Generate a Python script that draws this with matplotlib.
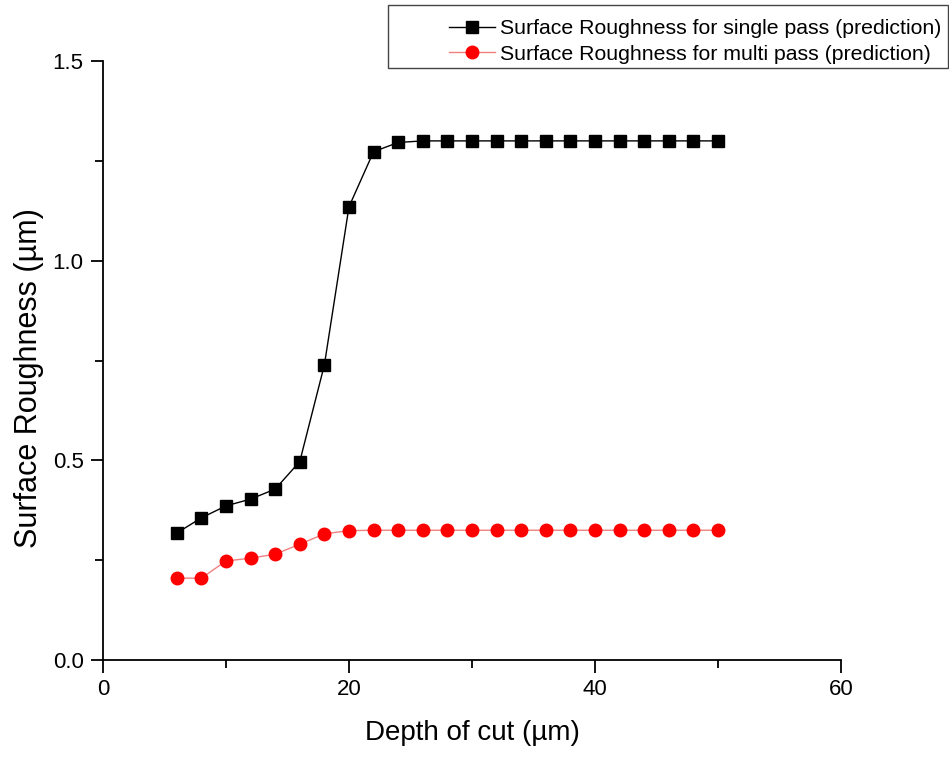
import numpy as np
import matplotlib.pyplot as plt
from matplotlib.ticker import MultipleLocator
from matplotlib.patches import Rectangle

plt.rcParams['font.family'] = ['Liberation Sans', 'DejaVu Sans']

depth = [6, 8, 10, 12, 14, 16, 18, 20, 22, 24, 26, 28, 30, 32, 34, 36, 38, 40, 42, 44, 46, 48, 50]
single_pass = [0.318, 0.356, 0.386, 0.403, 0.428, 0.497, 0.739, 1.135, 1.273, 1.296,
               1.30, 1.30, 1.30, 1.30, 1.30, 1.30, 1.30, 1.30, 1.30, 1.30, 1.30, 1.30, 1.30]
multi_pass = [0.205, 0.205, 0.248, 0.255, 0.265, 0.290, 0.316, 0.324, 0.325, 0.325,
              0.325, 0.325, 0.325, 0.325, 0.325, 0.325, 0.325, 0.325, 0.325, 0.325, 0.325, 0.325, 0.325]

fig = plt.figure(figsize=(9.49, 7.59), dpi=100)
ax = fig.add_axes([0.1085, 0.1304, 0.7777, 0.7892])

ax.plot(depth, single_pass, color='black', lw=1, marker='s', markersize=8.5,
        label='Surface Roughness for single pass (prediction)')
ax.plot(depth, multi_pass, color='#f08080', lw=1, marker='o', markersize=9,
        markerfacecolor='red', markeredgecolor='red',
        label='Surface Roughness for multi pass (prediction)')

ax.set_xlim(0, 60)
ax.set_ylim(0, 1.5)
ax.xaxis.set_major_locator(MultipleLocator(20))
ax.xaxis.set_minor_locator(MultipleLocator(10))
ax.yaxis.set_major_locator(MultipleLocator(0.5))
ax.yaxis.set_minor_locator(MultipleLocator(0.25))
ax.yaxis.set_major_formatter(plt.FormatStrFormatter('%.1f'))

ax.spines['top'].set_visible(False)
ax.spines['right'].set_visible(False)
for s in ('left', 'bottom'):
    ax.spines[s].set_linewidth(1.3)
ax.tick_params(which='major', direction='out', length=9, width=1.3, labelsize=16, color='black', pad=5)
ax.tick_params(which='minor', direction='out', length=6, width=1.3)

ax.set_xlabel('Depth of cut (µm)', fontsize=20, labelpad=14)
ax.set_ylabel('Surface Roughness (µm)', fontsize=22)
ax.yaxis.set_label_coords(-0.08, 0.471)

# legend frame drawn separately, it runs off the right edge in the original
fig.patches.append(Rectangle((388 / 949, 1 - 68 / 759), 0.59, 63 / 759,
                             transform=fig.transFigure, fill=False,
                             edgecolor='#444444', lw=1.0))
fig.legend(loc='upper right', bbox_to_anchor=(941 / 949, 1 - 19 / 759), bbox_transform=fig.transFigure,
           fontsize=15.3, frameon=False, handlelength=2.2, handletextpad=0.2,
           borderpad=0, labelspacing=0.32, borderaxespad=0)

fig.savefig('out.png', dpi=100)
